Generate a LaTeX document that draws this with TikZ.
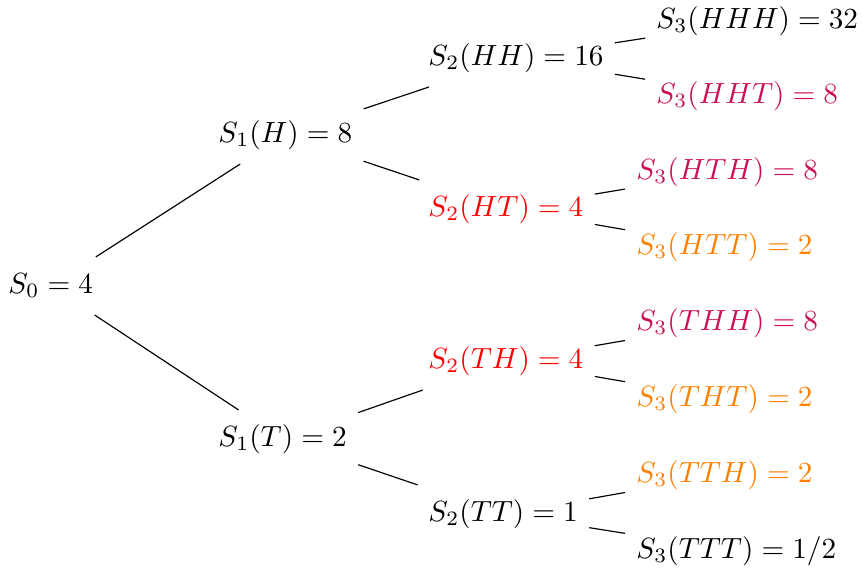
\documentclass[tikz,border=0pt]{standalone}
\definecolor{mag}{rgb}{0.80,0.06,0.34}
\definecolor{org}{rgb}{1,0.5,0}
\begin{document}
\begin{tikzpicture}[x=0.3425pt,y=-0.3425pt,
  st/.style={anchor=west,inner xsep=3.7pt,inner ysep=4.75pt,text height=7.5pt,text depth=2.5pt},
  conn/.style={draw=black,line width=0.4pt}]
\useasboundingbox (0,0) rectangle (862,569);
\node[st] (s0) at (-3,286) {$S_0 = 4$};
\node[st] (s1h) at (207,135) {$S_1(H) = 8$};
\node[st] (s1t) at (207,439) {$S_1(T) = 2$};
\node[st] (s2hh) at (417,58) {$S_2(HH) = 16$};
\node[st,red] (s2ht) at (417,209) {$S_2(HT) = 4$};
\node[st,red] (s2th) at (417,361) {$S_2(TH) = 4$};
\node[st] (s2tt) at (417,514) {$S_2(TT) = 1$};
\node[st] (s3hhh) at (645,21) {$S_3(HHH) = 32$};
\node[st,mag] (s3hht) at (645,96) {$S_3(HHT) = 8$};
\node[st,mag] (s3hth) at (625,172) {$S_3(HTH) = 8$};
\node[st,org] (s3htt) at (625,247) {$S_3(HTT) = 2$};
\node[st,mag] (s3thh) at (625,323) {$S_3(THH) = 8$};
\node[st,org] (s3tht) at (625,399) {$S_3(THT) = 2$};
\node[st,org] (s3tth) at (625,475) {$S_3(TTH) = 2$};
\node[st] (s3ttt) at (625,551) {$S_3(TTT) = 1/2$};
\draw[conn] (s0) -- (s1h);
\draw[conn] (s0) -- (s1t);
\draw[conn] (s1h) -- (s2hh);
\draw[conn] (s1h) -- (s2ht);
\draw[conn] (s1t) -- (s2th);
\draw[conn] (s1t) -- (s2tt);
\draw[conn] (s2hh) -- (s3hhh);
\draw[conn] (s2hh) -- (s3hht);
\draw[conn] (s2ht) -- (s3hth);
\draw[conn] (s2ht) -- (s3htt);
\draw[conn] (s2th) -- (s3thh);
\draw[conn] (s2th) -- (s3tht);
\draw[conn] (s2tt) -- (s3tth);
\draw[conn] (s2tt) -- (s3ttt);
\end{tikzpicture}
\end{document}
